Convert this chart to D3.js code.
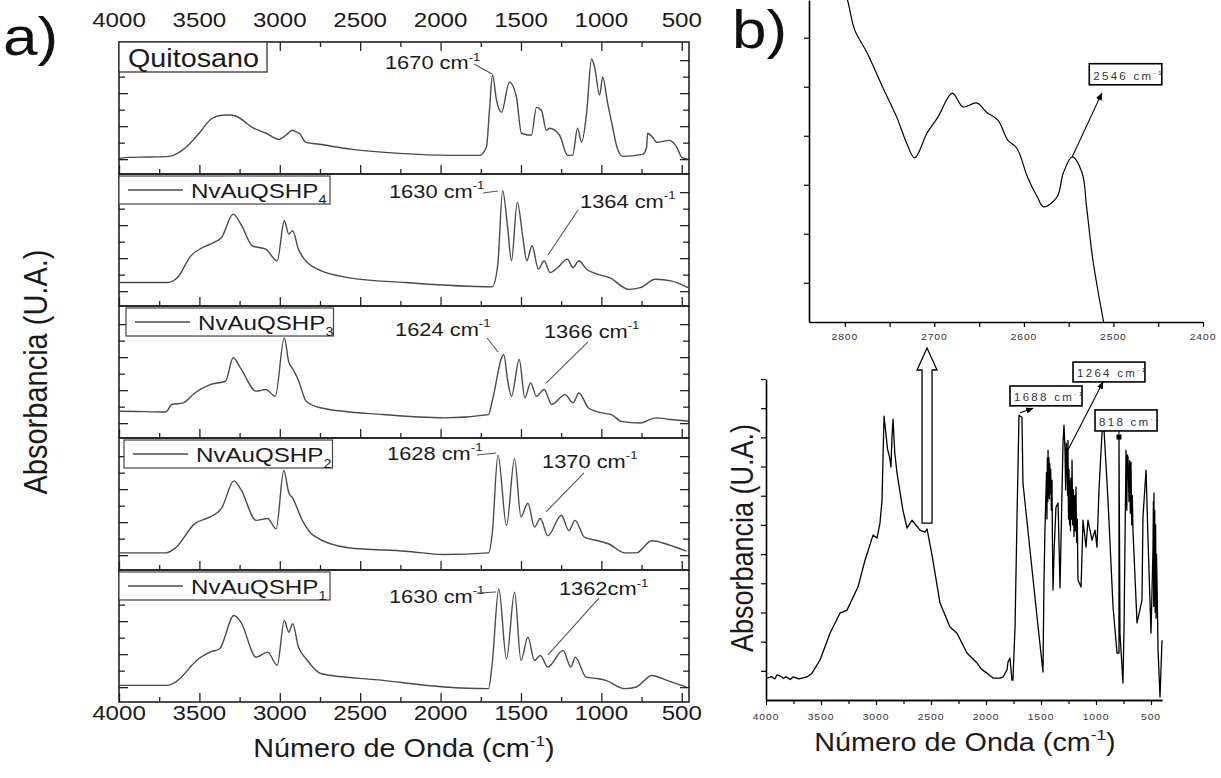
<!DOCTYPE html>
<html><head><meta charset="utf-8">
<script src="https://cdn.jsdelivr.net/npm/d3@7"></script>
<style>
body{margin:0;background:#fff}
svg{display:block}
text{font-family:"Liberation Sans",Arial,Helvetica,sans-serif}
</style>
</head><body>
<svg id="c" width="1221" height="778"></svg>
<script>
// ================= DATA =================
// Panel a
const xTicksA = [4000,3500,3000,2500,2000,1500,1000,500];
const xMinorA = [3750,3250,2750,2250,1750,1250,750];
const yTicksA = [0.9,1.9,2.9,3.9,4.9,5.9,6.9];
const panelNames = ["Quitosano","NvAuQSHP","NvAuQSHP","NvAuQSHP","NvAuQSHP"];
const panelSubs  = ["","4","3","2","1"];

const quitosano = [[3995,0.95],[3938,1.01],[3800,1.03],[3689,1.07],[3583,1.62],[3502,2.47],[3421,3.38],[3359,3.56],[3310,3.58],[3271,3.50],[3172,2.83],[3085,2.47],[3004,2.10],[2962,2.35],[2922,2.65],[2900,2.55],[2879,2.47],[2838,1.92],[2755,1.80],[2549,1.49],[2257,1.25],[1945,1.13],[1758,1.13],[1715,1.62],[1696,3.86],[1677,6.0],[1652,4.47],[1621,3.74],[1572,5.57],[1528,4.65],[1497,2.47],[1435,2.35],[1404,4.04],[1373,3.86],[1342,2.65],[1323,2.77],[1260,2.35],[1210,1.13],[1179,1.13],[1148,2.77],[1123,1.92],[1092,3.68],[1061,6.97],[1042,6.48],[1011,4.78],[992,5.87],[961,4.29],[930,2.83],[906,1.74],[868,1.07],[743,1.19],[719,1.62],[712,2.47],[681,2.22],[656,1.92],[575,2.04],[531,1.62],[500,1.01],[463,0.89]];

const nvauP4 = [[3995,1.42],[3935,1.42],[3696,1.42],[3636,1.72],[3553,3.04],[3481,3.54],[3409,3.85],[3362,4.15],[3290,5.57],[3242,4.96],[3171,3.65],[3087,3.44],[3016,2.74],[2972,5.17],[2944,4.36],[2920,4.56],[2884,3.44],[2848,2.84],[2765,2.23],[2574,1.72],[2216,1.42],[1679,1.16],[1644,2.53],[1614,6.99],[1583,4.76],[1559,2.74],[1523,6.28],[1488,4.15],[1464,2.74],[1431,3.65],[1392,2.23],[1356,2.74],[1319,2.03],[1271,2.33],[1212,2.84],[1176,2.33],[1140,2.74],[1092,2.23],[1021,1.92],[949,1.72],[830,1.01],[758,1.11],[663,1.62],[567,1.52],[461,1.11]];

const nvauP3 = [[3995,1.62],[3982,1.62],[3708,1.58],[3672,2.03],[3600,2.13],[3529,2.73],[3433,3.24],[3338,3.44],[3290,4.86],[3242,4.2],[3147,2.84],[3087,2.94],[3028,2.53],[2972,6.07],[2944,4.6],[2920,4.2],[2884,3.5],[2836,2.23],[2741,1.82],[2359,1.42],[1977,1.22],[1702,1.42],[1679,2.23],[1607,5.06],[1583,3.5],[1559,2.53],[1511,4.76],[1476,2.43],[1440,3.34],[1404,2.53],[1356,2.94],[1309,2.03],[1226,2.63],[1176,2.13],[1140,2.73],[1080,1.82],[997,1.52],[937,1.42],[877,1.01],[758,0.91],[663,1.22],[567,1.12],[448,1.01]];

const nvauP2 = [[3995,1.04],[3934,1.04],[3708,1.04],[3648,1.35],[3529,2.81],[3433,3.22],[3362,3.74],[3285,5.40],[3242,4.88],[3147,3.01],[3075,3.12],[3023,2.49],[2975,6.03],[2944,4.68],[2920,4.36],[2860,3.01],[2789,2.08],[2574,1.35],[2216,1.14],[1977,0.94],[1702,1.04],[1679,2.18],[1643,6.96],[1590,2.70],[1540,6.75],[1500,3.22],[1457,4.05],[1416,2.60],[1380,3.12],[1333,2.08],[1249,3.32],[1202,2.39],[1164,3.01],[1104,1.97],[1021,1.77],[949,1.56],[854,1.04],[782,1.04],[687,1.77],[592,1.56],[472,1.14]];

const nvauP1 = [[3995,1.01],[3982,1.01],[3696,1.01],[3648,1.21],[3505,2.62],[3433,3.02],[3374,3.23],[3285,5.24],[3242,4.84],[3147,2.72],[3075,3.02],[3016,2.22],[2972,4.94],[2944,4.23],[2920,4.74],[2884,3.33],[2836,2.62],[2741,1.71],[2359,1.31],[1977,0.91],[1702,0.81],[1679,2.32],[1638,6.85],[1590,2.62],[1540,6.65],[1500,2.52],[1457,3.93],[1416,2.52],[1380,2.82],[1333,2.12],[1238,3.13],[1190,2.12],[1162,2.72],[1095,1.51],[1021,1.41],[973,1.31],[854,0.81],[782,0.91],[687,1.61],[592,1.31],[472,0.91]];

const seriesA = [quitosano, nvauP4, nvauP3, nvauP2, nvauP1];

const peakNotesA = [
  {panel:0, text:"1670 cm", lw:2346, lv:6.36, fw:1792, fv:6.67, tw:1680, tv:6.06},
  {panel:1, text:"1630 cm", lw:2321, lv:6.55, fw:1736, fv:6.85, tw:1643, tv:6.97},
  {panel:1, text:"1364 cm", lw:1133, lv:5.94, fw:1145, fv:5.82, tw:1332, tv:3.09},
  {panel:2, text:"1624 cm", lw:2283, lv:6.18, fw:1711, fv:6.06, tw:1643, tv:5.21},
  {panel:2, text:"1366 cm", lw:1357, lv:6.06, fw:1083, fv:5.82, tw:1344, tv:3.33},
  {panel:3, text:"1628 cm", lw:2333, lv:6.67, fw:1773, fv:6.97, tw:1655, tv:7.09},
  {panel:3, text:"1370 cm", lw:1369, lv:6.18, fw:1108, fv:5.88, tw:1344, tv:3.52},
  {panel:4, text:"1630 cm", lw:2321, lv:6.00, fw:1773, fv:6.60, tw:1655, tv:6.67},
  {panel:4, text:"1362cm",  lw:1264, lv:6.48, fw:1015, fv:6.30, tw:1332, tv:2.85}
];

// Panel b (main)
const xTicksB = [4000,3500,3000,2500,2000,1500,1000,500];
const xMinorB = [3750,3250,2750,2250,1750,1250,750];
const yTicksB = [1,2,3,4,5,6,7,8,9,10,11];
const spectrumB = [[3994,0.74],[3950,0.80],[3920,0.72],[3900,0.86],[3873,0.83],[3840,0.74],[3820,0.80],[3780,0.70],[3755,0.79],[3700,0.72],[3660,0.76],[3627,0.79],[3582,0.92],[3509,1.37],[3418,2.29],[3327,2.98],[3264,3.08],[3164,3.87],[3100,4.79],[3027,5.65],[2991,5.55],[2964,6.06],[2945,6.85],[2935,8.5],[2927,9.73],[2915,9.3],[2895,8.6],[2875,8.3],[2864,7.98],[2855,9.0],[2845,9.62],[2830,8.5],[2809,7.77],[2755,6.5],[2718,5.89],[2673,6.16],[2600,5.82],[2555,5.75],[2536,5.86],[2491,4.97],[2418,3.32],[2327,2.5],[2264,2.29],[2173,1.61],[2130,1.45],[2082,1.27],[2040,1.05],[1991,0.92],[1936,0.75],[1873,0.75],[1845,0.79],[1809,1.03],[1800,1.3],[1782,1.44],[1764,0.68],[1755,0.68],[1736,2.5],[1718,6.27],[1700,9.76],[1673,9.69],[1664,7.43],[1600,5.14],[1536,2.84],[1482,0.96],[1473,4.0],[1464,5.82],[1450,7.8],[1446,6.2],[1442,8.3],[1438,6.8],[1436,8.56],[1432,7.0],[1428,8.3],[1424,6.9],[1420,8.1],[1416,7.1],[1412,7.9],[1406,6.5],[1400,7.53],[1396,5.5],[1391,3.77],[1380,5.2],[1364,6.6],[1345,6.75],[1327,3.84],[1300,8.8],[1291,9.42],[1282,8.6],[1276,7.2],[1270,8.8],[1264,8.32],[1258,7.0],[1255,8.9],[1250,6.2],[1245,7.9],[1240,6.0],[1236,7.5],[1232,5.8],[1228,7.6],[1222,6.2],[1218,8.22],[1212,6.0],[1206,7.2],[1200,5.6],[1194,7.0],[1188,5.8],[1182,7.29],[1176,5.4],[1170,6.2],[1164,4.11],[1136,3.87],[1118,6.16],[1091,5.24],[1073,6.16],[1036,5.48],[1009,5.82],[991,5.24],[973,7.19],[945,9.18],[927,9.25],[891,6.85],[845,3.18],[809,1.61],[791,1.61],[791,9.0],[782,2.29],[755,0.58],[745,2.5],[727,8.56],[720,6.5],[715,8.4],[709,8.32],[700,6.8],[694,8.2],[688,6.4],[682,8.15],[675,6.0],[670,7.0],[664,5.82],[627,2.64],[582,3.42],[573,6.27],[545,7.88],[527,5.48],[500,2.29],[482,5.14],[478,6.8],[475,3.2],[473,7.09],[470,3.5],[466,6.5],[462,3.0],[458,6.0],[454,2.8],[450,5.0],[445,4.0],[436,1.71],[418,0.1],[400,2.05]];

// Panel b (inset)
const xTicksInset = [2800,2700,2600,2500,2400];
const xMinorInset = [2750,2650,2550,2450];
const yTicksInset = [0.8,1.8,2.8,3.8,4.8,5.8];
const spectrumInset = [[2800,6.7],[2797,6.57],[2789,5.96],[2775,5.49],[2758,4.80],[2742,4.18],[2731,3.65],[2722,3.35],[2708,3.86],[2696,4.18],[2680,4.67],[2668,4.39],[2653,4.47],[2641,4.27],[2629,4.12],[2618,3.71],[2608,3.55],[2596,2.96],[2585,2.55],[2578,2.35],[2563,2.55],[2556,3.04],[2546,3.37],[2535,3.04],[2530,2.35],[2523,1.27],[2511,0]];

const notesB = [
  {text:"1688 cm", box:[1782,10.76,1127,10.08], from:[1691,9.84], to:[1573,10.0], kind:"arrow"},
  {text:"1264 cm", box:[1209,11.58,555,10.9],  from:[1255,8.57], to:[936,10.9], kind:"arrow"},
  {text:"818 cm",  box:[1009,9.94,445,9.22],   from:[791,9.01],  to:[791,9.22], kind:"marker"}
];
const noteInset = {text:"2546 cm", box:[2527,5.27,2446,4.84], from:[2546,3.37], to:[2513,4.67]};

// ================= DRAWING =================
const SX = 1.15;
const svg = d3.select("#c");
const defs = svg.append("defs");
defs.append("marker").attr("id","ah").attr("viewBox","0 0 10 10").attr("refX",9).attr("refY",5)
  .attr("markerWidth",7).attr("markerHeight",7).attr("orient","auto")
  .append("path").attr("d","M0,1 L10,5 L0,9 Z").attr("fill","#000");

function stext(sel, x, y, parts, size, anchor, opts){
  opts = opts || {};
  const sx = opts.sx == null ? SX : opts.sx;
  const g = sel.append("g").attr("transform",`translate(${x},${y}) scale(${sx},1)` + (opts.rotate ? ` rotate(${opts.rotate})` : ""));
  const t = g.append("text").attr("text-anchor", anchor || "start").attr("font-size", size).attr("fill", opts.fill || "#1a1a1a");
  if (opts.ls) t.attr("letter-spacing", opts.ls);
  if (typeof parts === "string") parts = [{t:parts}];
  let cur = 0;
  parts.forEach(p => {
    const sh = p.sup ? -size*0.45 : (p.sub ? size*0.28 : 0);
    const ts = t.append("tspan").text(p.t).attr("dy", sh - cur);
    if (p.sup || p.sub) ts.attr("font-size", size*0.6);
    cur = sh;
  });
  return g;
}

// ---------- Panel a ----------
const A = {left:119, right:689, top:42, ph:132, n:5};
const xA = d3.scaleLinear().domain([4000,455]).range([A.left, A.right]);
const lineColor = "#4a4a4a";
const gA = svg.append("g");

for (let i=0;i<A.n;i++){
  const top = A.top + i*A.ph, bot = top + A.ph;
  const yA = d3.scaleLinear().domain([0,8]).range([bot, top]);
  const pg = gA.append("g");
  defs.append("clipPath").attr("id","clipA"+i).append("rect")
    .attr("x",A.left).attr("y",top).attr("width",A.right-A.left).attr("height",A.ph);
  pg.append("path").datum(seriesA[i])
    .attr("clip-path",`url(#clipA${i})`)
    .attr("d", d3.line().x(d=>xA(d[0])).y(d=>yA(d[1])).curve(d3.curveMonotoneX))
    .attr("fill","none").attr("stroke",lineColor).attr("stroke-width",1.4).attr("stroke-linejoin","round");
  const axStyle = s => { s.select(".domain").remove(); s.selectAll("line").attr("stroke","#222").attr("stroke-width",1.3); };
  pg.append("g").attr("transform",`translate(0,${bot})`)
    .call(d3.axisBottom(xA).tickValues(xTicksA).tickSize(-9).tickFormat("")).call(axStyle);
  pg.append("g").attr("transform",`translate(0,${bot})`)
    .call(d3.axisBottom(xA).tickValues(xMinorA).tickSize(-5).tickFormat("")).call(axStyle);
  if (i===0){
    pg.append("g").attr("transform",`translate(0,${top})`)
      .call(d3.axisTop(xA).tickValues(xTicksA).tickSize(-9).tickFormat("")).call(axStyle);
    pg.append("g").attr("transform",`translate(0,${top})`)
      .call(d3.axisTop(xA).tickValues(xMinorA).tickSize(-5).tickFormat("")).call(axStyle);
  }
  const major = yTicksA.filter((d,k)=>k%2===0), minor = yTicksA.filter((d,k)=>k%2===1);
  pg.append("g").attr("transform",`translate(${A.left},0)`)
    .call(d3.axisLeft(yA).tickValues(major).tickSize(-9).tickFormat("")).call(axStyle);
  pg.append("g").attr("transform",`translate(${A.left},0)`)
    .call(d3.axisLeft(yA).tickValues(minor).tickSize(-6).tickFormat("")).call(axStyle);
  pg.append("g").attr("transform",`translate(${A.right},0)`)
    .call(d3.axisRight(yA).tickValues(major).tickSize(-9).tickFormat("")).call(axStyle);
  pg.append("g").attr("transform",`translate(${A.right},0)`)
    .call(d3.axisRight(yA).tickValues(minor).tickSize(-6).tickFormat("")).call(axStyle);
  pg.append("rect").attr("x",A.left).attr("y",top).attr("width",A.right-A.left).attr("height",A.ph)
    .attr("fill","none").attr("stroke","#222").attr("stroke-width",1.6);

  if (i===0){
    pg.append("rect").attr("x",A.left).attr("y",top).attr("width",148).attr("height",30)
      .attr("fill","#fff").attr("stroke","#333").attr("stroke-width",1.3);
    stext(pg, A.left+9, top+25, panelNames[i], 25, "start");
  } else {
    const dx = [0,0,7,5,0][i];
    const bx = A.left + dx, by = top + 2;
    pg.append("rect").attr("x",bx).attr("y",by).attr("width",211-dx/2).attr("height",28)
      .attr("fill","#fff").attr("stroke","#444").attr("stroke-width",1.2);
    pg.append("line").attr("x1",bx+9).attr("x2",bx+64).attr("y1",by+14).attr("y2",by+14)
      .attr("stroke",lineColor).attr("stroke-width",1.4);
    stext(pg, bx+72, by+22, [{t:panelNames[i]},{t:panelSubs[i],sub:true}], 21, "start");
  }

  peakNotesA.filter(n=>n.panel===i).forEach(n=>{
    stext(pg, xA(n.lw), yA(n.lv), [{t:n.text},{t:"-1",sup:true}], 19, "start");
    pg.append("line").attr("x1",xA(n.fw)).attr("y1",yA(n.fv)).attr("x2",xA(n.tw)).attr("y2",yA(n.tv))
      .attr("stroke","#555").attr("stroke-width",1.1);
  });
}

xTicksA.forEach(t=>{
  stext(gA, xA(t), 27, String(t), 21, "middle");
  stext(gA, xA(t), 720, String(t), 21, "middle");
});
stext(gA, (A.left+A.right)/2, 757, [{t:"Número de Onda (cm"},{t:"-1",sup:true},{t:")"}], 25, "middle");
stext(gA, 47, A.top + A.ph*A.n/2, "Absorbancia (U.A.)", 29, "middle", {rotate:-90});
stext(svg, 3, 55, "a)", 54, "start", {fill:"#111"});

// ---------- Panel b main ----------
const B = {left:766, right:1162, top:379, bottom:700};
const xb = d3.scaleLinear().domain([4000,400]).range([B.left, B.right]);
const yb = d3.scaleLinear().domain([0,11]).range([B.bottom, B.top]);
const gB = svg.append("g");
const axB = s => { s.selectAll("line").attr("stroke","#000").attr("stroke-width",1.2); s.select(".domain").attr("stroke","#000").attr("stroke-width",1.6); };
gB.append("g").attr("transform",`translate(0,${B.bottom})`)
  .call(d3.axisBottom(xb).tickValues(xTicksB).tickSize(5).tickSizeOuter(0).tickFormat("")).call(axB);
gB.append("g").attr("transform",`translate(0,${B.bottom})`)
  .call(d3.axisBottom(xb).tickValues(xMinorB).tickSize(4).tickSizeOuter(0).tickFormat("")).call(axB);
gB.append("g").attr("transform",`translate(${B.left},0)`)
  .call(d3.axisLeft(yb).tickValues(yTicksB).tickSize(5).tickSizeOuter(0).tickFormat("")).call(axB);
gB.append("path").datum(spectrumB)
  .attr("d", d3.line().x(d=>xb(d[0])).y(d=>yb(d[1])))
  .attr("fill","none").attr("stroke","#000").attr("stroke-width",1.3).attr("stroke-linejoin","round");
xTicksB.forEach(t=> stext(gB, xb(t), 720, String(t), 9, "middle", {ls:0.8, fill:"#333"}));
stext(gB, 965, 751, [{t:"Número de Onda (cm"},{t:"-1",sup:true},{t:")"}], 25, "middle");
stext(gB, 753, 538, "Absorbancia (U.A.)", 27, "middle", {rotate:-90});
stext(svg, 732, 48, "b)", 54, "start", {fill:"#111"});

notesB.forEach(n=>{
  const x1 = xb(n.box[0]), y1 = yb(n.box[1]), x2 = xb(n.box[2]), y2 = yb(n.box[3]);
  gB.append("rect").attr("x",x1).attr("y",y1).attr("width",x2-x1).attr("height",y2-y1)
    .attr("fill","#fff").attr("stroke","#000").attr("stroke-width",1.6);
  stext(gB, x1+4, y2-5, [{t:n.text},{t:"-1",sup:true}], 10, "start", {ls:2, fill:"#333"});
  const ln = gB.append("line").attr("x1",xb(n.from[0])).attr("y1",yb(n.from[1]))
    .attr("x2",xb(n.to[0])).attr("y2",yb(n.to[1])).attr("stroke","#000").attr("stroke-width",1.1);
  if (n.kind==="arrow") ln.attr("marker-end","url(#ah)");
  else gB.append("rect").attr("x",xb(n.from[0])-2.5).attr("y",yb(n.from[1])-2.5).attr("width",5).attr("height",5).attr("fill","#000");
});

{
  const cx = xb(2536), yBot = yb(6.06), yBase = B.top - 9, yTip = B.top - 31;
  const pts = [[cx-5,yBot],[cx-5,yBase],[cx-10,yBase],[cx,yTip],[cx+10,yBase],[cx+5,yBase],[cx+5,yBot]];
  gB.append("path").attr("d", d3.line()(pts)+"Z").attr("fill","#fff").attr("stroke","#000").attr("stroke-width",1.3);
}

// ---------- Inset ----------
const I = {left:809, right:1203, top:0, bottom:322};
const xi = d3.scaleLinear().domain([2840,2400]).range([I.left, I.right]);
const yi = d3.scaleLinear().domain([0,6.57]).range([I.bottom, I.top]);
const gI = svg.append("g");
gI.append("g").attr("transform",`translate(0,${I.bottom})`)
  .call(d3.axisBottom(xi).tickValues(xTicksInset.concat(xMinorInset)).tickSize(5).tickSizeOuter(0).tickFormat("")).call(axB);
gI.append("g").attr("transform",`translate(${I.left},0)`)
  .call(d3.axisLeft(yi).tickValues(yTicksInset).tickSize(5).tickSizeOuter(0).tickFormat("")).call(axB);
gI.append("path").datum(spectrumInset)
  .attr("d", d3.line().x(d=>xi(d[0])).y(d=>yi(d[1])).curve(d3.curveCatmullRom))
  .attr("fill","none").attr("stroke","#000").attr("stroke-width",1.2);
xTicksInset.forEach(t=> stext(gI, xi(t), 340, String(t), 9, "middle", {ls:0.8, fill:"#333"}));
{
  const n = noteInset;
  const x1 = xi(n.box[0]), y1 = yi(n.box[1]), x2 = xi(n.box[2]), y2 = yi(n.box[3]);
  gI.append("rect").attr("x",x1).attr("y",y1).attr("width",x2-x1).attr("height",y2-y1)
    .attr("fill","#fff").attr("stroke","#000").attr("stroke-width",1.6);
  stext(gI, x1+4, y2-5, [{t:n.text},{t:"-1",sup:true}], 10, "start", {ls:2, fill:"#333"});
  gI.append("line").attr("x1",xi(n.from[0])).attr("y1",yi(n.from[1]))
    .attr("x2",xi(n.to[0])).attr("y2",yi(n.to[1])).attr("stroke","#000").attr("stroke-width",1.1)
    .attr("marker-end","url(#ah)");
}
</script>
</body></html>
